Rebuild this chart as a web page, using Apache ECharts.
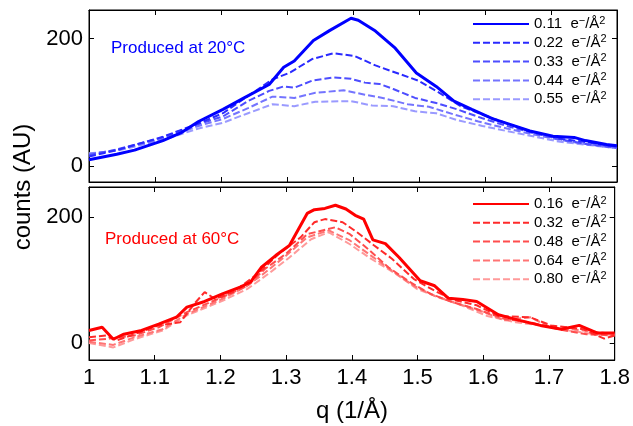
<!DOCTYPE html>
<html><head><meta charset="utf-8">
<script src="https://cdn.jsdelivr.net/npm/echarts@6/dist/echarts.min.js"></script>
<style>html,body{margin:0;padding:0;background:#fff}#c{width:633px;height:426px}</style>
</head><body><div id="c"></div>
<script>
// ---------- data ----------
const xTicks = [1, 1.1, 1.2, 1.3, 1.4, 1.5, 1.6, 1.7, 1.8];
const yTickValues = [0, 200];

const topNames = ['0.11', '0.22', '0.33', '0.44', '0.55'];
const botNames = ['0.16', '0.32', '0.48', '0.64', '0.80'];

const q011 = [1.000,1.042,1.069,1.112,1.139,1.166,1.203,1.235,1.273,1.295,1.311,1.340,1.365,1.397,1.408,1.434,1.464,1.496,1.526,1.553,1.580,1.612,1.639,1.668,1.703,1.735,1.752,1.784,1.800];
const v011 = [10,18.6,25,40,52,70,89,107,128,155,165,197,213,232,229,212,185,146,125,102,89,74,65,55,47,45,40,34,32];

const q022 = [1.000,1.042,1.112,1.166,1.203,1.241,1.278,1.305,1.338,1.370,1.402,1.434,1.472,1.499,1.531,1.563,1.596,1.633,1.671,1.714,1.757,1.800];
const v022 = [15,25,46,67,83,110,136,147,168,177,173,158,144,134,115,94,81,67,54,43,37,30];

const q033 = [1.000,1.042,1.112,1.166,1.203,1.241,1.273,1.295,1.311,1.338,1.370,1.397,1.418,1.440,1.461,1.494,1.526,1.558,1.596,1.633,1.676,1.714,1.757,1.800];
const v033 = [17,26,45,66,78,102,118,125,123,134,139,137,131,129,121,107,99,89,75,63,51,42,34,29];

const q044 = [1.000,1.042,1.112,1.166,1.203,1.241,1.278,1.311,1.343,1.386,1.418,1.445,1.483,1.515,1.553,1.590,1.633,1.676,1.714,1.757,1.800];
const v044 = [19,25,43,63,74,91,109,107,115,119,112,107,97,93,81,70,59,49,41,34,28];

const q055 = [1.000,1.042,1.112,1.166,1.203,1.241,1.278,1.311,1.343,1.397,1.429,1.461,1.494,1.526,1.558,1.596,1.633,1.676,1.714,1.757,1.800];
const v055 = [20,24,41,59,68,83,97,94,101,102,95,94,86,83,72,63,55,46,38,33,28];

const q016 = [1.000,1.020,1.037,1.053,1.080,1.106,1.133,1.149,1.176,1.203,1.230,1.246,1.262,1.284,1.305,1.332,1.343,1.359,1.375,1.391,1.405,1.418,1.432,1.451,1.472,1.504,1.526,1.547,1.569,1.590,1.623,1.655,1.687,1.719,1.746,1.773,1.800];
const v016 = [20,25,6,14,20,30,41,57,66,78,89,97,120,139,155,206,212,214,219,213,203,197,164,158,136,99,91,71,69,66,45,36,28,22,28,16,16];

const q032 = [1.000,1.026,1.042,1.069,1.106,1.139,1.160,1.176,1.192,1.219,1.257,1.289,1.322,1.343,1.359,1.386,1.408,1.434,1.461,1.494,1.526,1.553,1.590,1.623,1.671,1.703,1.752,1.784,1.800];
const v032 = [9,12,4,14,28,33,62,81,70,81,110,142,168,192,197,192,176,155,134,102,83,69,60,43,41,28,22,7,12];

const q048 = [1.000,1.031,1.069,1.106,1.149,1.203,1.241,1.268,1.300,1.332,1.375,1.397,1.424,1.456,1.488,1.520,1.553,1.590,1.633,1.671,1.714,1.757,1.800];
const v048 = [4,7,12,25,49,73,91,118,142,173,184,173,150,120,97,78,65,54,38,33,22,14,12];

const q064 = [1.000,1.037,1.069,1.112,1.149,1.203,1.241,1.268,1.300,1.332,1.365,1.397,1.429,1.461,1.494,1.526,1.563,1.601,1.633,1.671,1.703,1.752,1.800];
const v064 = [2,-3,9,22,46,70,91,112,139,168,179,163,139,115,91,75,62,49,36,41,25,20,14];

const q080 = [1.000,1.037,1.069,1.112,1.149,1.203,1.241,1.273,1.305,1.338,1.365,1.397,1.429,1.467,1.499,1.531,1.569,1.606,1.649,1.687,1.730,1.768,1.800];
const v080 = [0,-7,6,20,44,67,86,110,136,165,176,157,134,110,86,73,59,43,33,28,20,14,13];

// ---------- chart ----------
const FONT = 'Liberation Sans, Arial, Helvetica, sans-serif';
const topColors = ['#0000ff', '#2a2aff', '#4d4dff', '#7474ff', '#9a9aff'];
const botColors = ['#ff0000', '#ff2a2a', '#ff4d4d', '#ff7474', '#ff9a9a'];
const topQ = [q011, q022, q033, q044, q055], topV = [v011, v022, v033, v044, v055];
const botQ = [q016, q032, q048, q064, q080], botV = [v016, v032, v048, v064, v080];

function pairs(qs, vs) { return qs.map((x, i) => [x, vs[i]]); }

function mkSeries(names, Q, V, colors, gi) {
  return names.map((n, i) => ({
    name: n, type: 'line', xAxisIndex: gi * 2, yAxisIndex: gi * 2,
    data: pairs(Q[i], V[i]), symbol: 'none', showSymbol: false, smooth: false,
    clip: true, animation: false, z: 10 - i,
    lineStyle: { color: colors[i], width: i === 0 ? 3 : 2, type: i === 0 ? 'solid' : [7, 3] },
    itemStyle: { color: colors[i] }
  }));
}

function xAx(gi, pos, labels) {
  return {
    type: 'value', gridIndex: gi, position: pos, min: 1, max: 1.8, interval: 0.1,
    axisLine: { show: true, onZero: false, lineStyle: { color: '#000', width: 1 } },
    axisTick: { show: true, inside: true, length: 5, lineStyle: { color: '#000' } },
    axisLabel: { show: labels, color: '#000', fontSize: 22, fontFamily: FONT, margin: 7,
      formatter: v => String(+v.toFixed(1)) },
    splitLine: { show: false }
  };
}
function yAx(gi, pos, labels, mn, mx) {
  return {
    type: 'value', gridIndex: gi, position: pos, min: mn, max: mx,
    axisLine: { show: true, onZero: false, lineStyle: { color: '#000', width: 1 } },
    axisTick: { show: true, inside: true, length: 5, customValues: yTickValues, lineStyle: { color: '#000' } },
    axisLabel: { show: labels, customValues: yTickValues, color: '#000', fontSize: 22, fontFamily: FONT, margin: 6 },
    splitLine: { show: false }
  };
}

const rich = {
  n: { fontSize: 15, lineHeight: 18, fontFamily: FONT, color: '#000' },
  s: { fontSize: 11, lineHeight: 11, fontFamily: FONT, color: '#000', verticalAlign: 'top' }
};
function legendFmt(name) { return '{n|' + name + '  e}{s|\u2212}{n|/\u00C5}{s|2}'; }
function mkLegend(names, top) {
  return {
    orient: 'vertical', left: 472, top: top, itemWidth: 56, itemHeight: 10, itemGap: 2.3,
    data: names, selectedMode: false, formatter: legendFmt, padding: 0,
    itemStyle: { opacity: 0 },
    textStyle: { rich: rich, fontFamily: FONT }
  };
}

const chart = echarts.init(document.getElementById('c'), null, { renderer: 'canvas' });
chart.setOption({
  animation: false,
  backgroundColor: '#fff',
  grid: [
    { left: 89, right: 16, top: 10, height: 172, show: true, borderColor: '#000', borderWidth: 1, backgroundColor: 'transparent' },
    { left: 89, right: 16, top: 187, height: 173, show: true, borderColor: '#000', borderWidth: 1, backgroundColor: 'transparent' }
  ],
  xAxis: [xAx(0, 'bottom', false), xAx(0, 'top', false), xAx(1, 'bottom', true), xAx(1, 'top', false)],
  yAxis: [yAx(0, 'left', true, -25, 245), yAx(0, 'right', false, -25, 245), yAx(1, 'left', true, -27, 248), yAx(1, 'right', false, -27, 248)],
  legend: [mkLegend(topNames, 15), mkLegend(botNames, 195)],
  graphic: [
    { type: 'text', x: 111, y: 48, style: { text: 'Produced at 20\u00B0C', fill: '#0000ff', fontSize: 17, fontFamily: FONT, verticalAlign: 'middle' } },
    { type: 'text', x: 105, y: 239, style: { text: 'Produced at 60\u00B0C', fill: '#ff0000', fontSize: 17, fontFamily: FONT, verticalAlign: 'middle' } },
    { type: 'text', x: 23, y: 187, rotation: Math.PI / 2, style: { text: 'counts (AU)', fill: '#000', fontSize: 24, fontFamily: FONT, align: 'center', verticalAlign: 'middle' } },
    { type: 'text', x: 352, y: 411, style: { text: 'q (1/\u00C5)', fill: '#000', fontSize: 24, fontFamily: FONT, align: 'center', verticalAlign: 'middle' } }
  ],
  series: mkSeries(topNames, topQ, topV, topColors, 0).concat(mkSeries(botNames, botQ, botV, botColors, 1))
});
</script></body></html>
